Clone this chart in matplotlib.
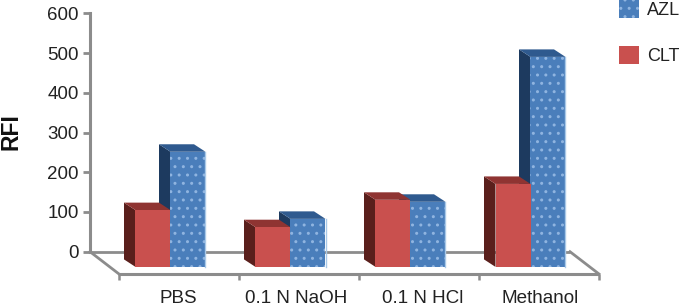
import matplotlib
matplotlib.use('Agg')
import matplotlib.pyplot as plt
from matplotlib.patches import Patch
from matplotlib.transforms import Affine2D

plt.rcParams['font.family'] = ['Liberation Sans', 'DejaVu Sans']
plt.rcParams['hatch.linewidth'] = 1.0

categories = ['PBS', '0.1 N NaOH', '0.1 N HCl', 'Methanol']
clt = [143, 100, 169, 209]
azl = [290, 121, 164, 529]
yticks = [0, 100, 200, 300, 400, 500, 600]

W, H = 682, 306
PX_PER_CAT = 120
PX_PER_VAL = 0.397
GREY = '#8c8c8c'
TEXT = '#222222'

fig = plt.figure(figsize=(W / 100, H / 100), dpi=100, facecolor='white')
ax = fig.add_axes([0, 0, 1, 1])
ax.patch.set_alpha(0)

# full figure axes, scales set so that x=-0.5 is the wall and y=0 is the back floor line
x_left = -0.5 - 90 / PX_PER_CAT
y_bottom = (251.7 - H) / PX_PER_VAL
ax.set_xlim(x_left, x_left + W / PX_PER_CAT)
ax.set_ylim(y_bottom, y_bottom + H / PX_PER_VAL)

for name in ['top', 'right', 'bottom']:
    ax.spines[name].set_visible(False)
ax.spines['left'].set_position(('data', -0.5))
ax.spines['left'].set_bounds(0, 600)
ax.spines['left'].set_color(GREY)
ax.spines['left'].set_linewidth(2.2)
ax.set_yticks(yticks)
ax.tick_params(axis='y', length=5, width=2, color=GREY, labelsize=13.5, labelcolor=TEXT, pad=3)
ax.set_xticks([])

# floor
floor_shift = ax.transData + Affine2D().translate(29, -22.3)
ax.plot([-0.5, 3.5], [0, 0], color=GREY, lw=2, zorder=1, solid_capstyle='butt')
ax.plot([-0.5, 3.5], [0, 0], color=GREY, lw=2.2, zorder=1, transform=floor_shift, solid_capstyle='butt')
d_x = 29 / PX_PER_CAT
d_y = 22.3 / PX_PER_VAL
ax.plot([-0.5, -0.5 + d_x], [0, -d_y], color=GREY, lw=2, zorder=1)
ax.plot([3.5, 3.5 + d_x], [0, -d_y], color=GREY, lw=2, zorder=1)
for i in range(5):
    ax.plot([i - 0.5, i - 0.5], [0, -6 / PX_PER_VAL], color=GREY, lw=1.8, zorder=1,
            transform=floor_shift, solid_capstyle='butt')

# bars
front = ax.transData + Affine2D().translate(20.5, -15.2)
bar_w = 35 / PX_PER_CAT
depth_x = 11.5 / PX_PER_CAT
depth_y = 7.5 / PX_PER_VAL


def draw_bar(x0, value, face, top, side, z, hatch=None, hatch_color=None):
    x1 = x0 + bar_w
    ax.fill([x0, x0 - depth_x, x0 - depth_x, x0], [0, depth_y, value + depth_y, value],
            color=side, lw=0, zorder=z, transform=front)
    ax.fill([x0, x0 - depth_x, x1 - depth_x, x1], [value, value + depth_y, value + depth_y, value],
            color=top, lw=0, zorder=z, transform=front)
    ax.bar(x0, value, bar_w, align='edge', color=face, edgecolor=hatch_color if hatch else face,
           hatch=hatch, lw=0, zorder=z, transform=front)
    if hatch:
        ax.plot([x1, x1], [0, value], color='#a9c9e8', lw=1, zorder=z, transform=front)


label_nudge = [0, -2, 5, 2]

for i, name in enumerate(categories):
    draw_bar(i, azl[i], '#4a7ebb', '#2f5a8f', '#1d3a5f', 3 + i * 2, hatch='..', hatch_color='#8fb4e0')
    draw_bar(i - bar_w, clt[i], '#c9504e', '#8f3432', '#5a1f1c', 4 + i * 2)
    ax.text(i, 0, name, transform=ax.transData + Affine2D().translate(28 + label_nudge[i], -46.5),
            ha='center', va='center', fontsize=13.6, color=TEXT)

ax.text(11 / W, 1 - 132 / H, 'RFI', transform=ax.transAxes, rotation=90, ha='center', va='center',
        fontsize=16.5, fontweight='bold', color='#111111')

handles = [Patch(facecolor='#4a7ebb', edgecolor='#8fb4e0', hatch='..', lw=0, label='AZL'),
           Patch(facecolor='#c9504e', edgecolor='#c9504e', lw=0, label='CLT')]
ax.legend(handles=handles, loc='upper left', bbox_to_anchor=(619 / W, 1), frameon=False,
          borderaxespad=0, borderpad=0, fontsize=13, handlelength=1.1, handleheight=1.15,
          labelspacing=1.5, handletextpad=0.45, labelcolor=TEXT)

fig.savefig('out.png', dpi=100)
